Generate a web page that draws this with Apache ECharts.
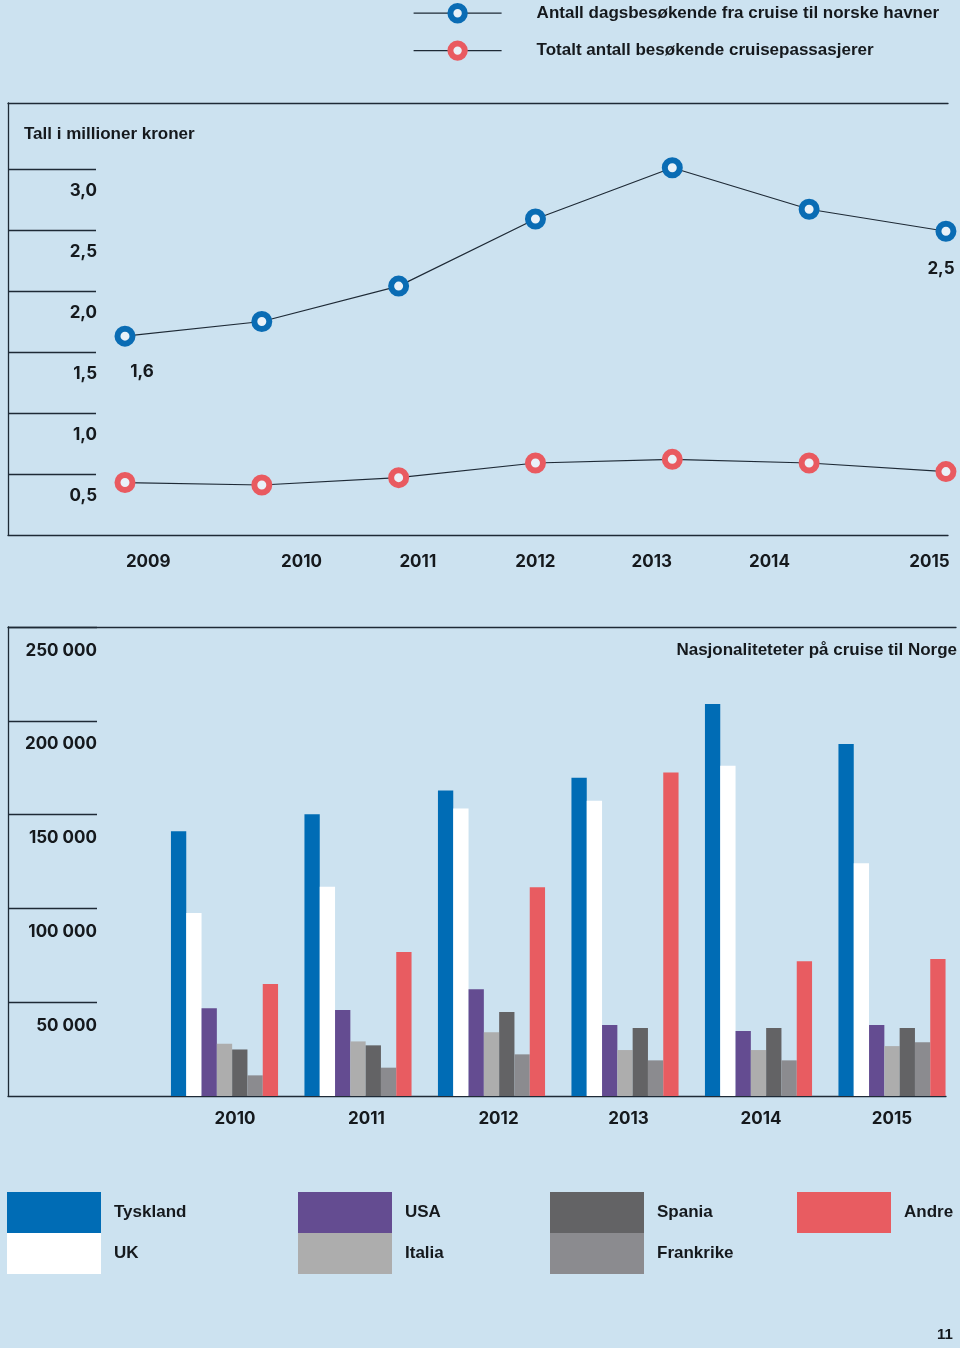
<!DOCTYPE html>
<html><head><meta charset="utf-8">
<script src="https://cdn.jsdelivr.net/npm/echarts@6/dist/echarts.min.js"></script>
<style>html,body{margin:0;padding:0;background:#cce2f0}#c{width:960px;height:1348px}</style>
</head><body><div id="c"></div>
<script>
// ---- data ----
const years = ['2009', '2010', '2011', '2012', '2013', '2014', '2015'];
const dagsbesokende = [1.63, 1.75, 2.04, 2.59, 3.01, 2.67, 2.49];
const totaltPassasjerer = [0.43, 0.41, 0.47, 0.59, 0.62, 0.59, 0.52];
const lineTicks = [0.5, 1.0, 1.5, 2.0, 2.5, 3.0];

const barYears = ['2010', '2011', '2012', '2013', '2014', '2015'];
const tyskland = [141100, 150200, 162900, 169700, 209000, 187600];
const uk = [97500, 111500, 153200, 157400, 176100, 124100];
const usa = [46800, 45900, 56900, 37800, 34600, 37800];
const italia = [27800, 29100, 34000, 24500, 24500, 26600];
const spania = [24800, 27000, 44800, 36300, 36300, 36300];
const frankrike = [11000, 15100, 22200, 19000, 19000, 28600];
const andre = [59700, 76800, 111300, 172500, 71800, 73000];

const lineNames = ['Antall dagsbesøkende fra cruise til norske havner', 'Totalt antall besøkende cruisepassasjerer'];
const barNames = ['Tyskland', 'UK', 'USA', 'Italia', 'Spania', 'Frankrike', 'Andre'];

// ---- layout / style ----
const yearLabelNudge = [0.17, 0.29, 0.14, 0.0, -0.15, -0.29, -0.12];
const barLabelPadLeft = [21, 17, 14, 7, 5, 0];
const INK = '#15191d';
const LINE = '#1e2a36';
const TXT = 'Liberation Sans, Arial, sans-serif';
const NUM = 'Inter, Liberation Sans, sans-serif';
const barColors = ['#006cb5', '#ffffff', '#644c91', '#adadad', '#636365', '#8b8b8f', '#e85c61'];
const barData = [tyskland, uk, usa, italia, spania, frankrike, andre];

const chart = echarts.init(document.getElementById('c'));
const lineSt = { color: LINE, width: 1.3 };
const axLine = { show: true, onZero: false, lineStyle: lineSt };
const numLabel = { fontFamily: NUM, fontWeight: 'bold', fontSize: 17, color: INK };

function lineData(arr, labelled) {
  return arr.map((v, i) => {
    if (labelled && i === 0) return { value: [i, v], label: { show: true, offset: [17, 12] } };
    if (labelled && i === arr.length - 1) return { value: [i, v], label: { show: true, offset: [-5, 14] } };
    return [i, v];
  });
}

const barRich = {};
barLabelPadLeft.forEach((p, i) => { barRich['n' + i] = Object.assign({ padding: [0, 0, 0, p] }, numLabel); });

const option = {
  backgroundColor: '#cce2f0',
  animation: false,
  title: [
    { text: 'Tall i millioner kroner', left: 24, top: 126, padding: 0,
      textStyle: { fontFamily: TXT, fontWeight: 'bold', fontSize: 17, color: INK } },
    { text: 'Nasjonaliteteter på cruise til Norge', right: 3, top: 642, padding: 0,
      textStyle: { fontFamily: TXT, fontWeight: 'bold', fontSize: 17, color: INK } },
    { text: '11', left: 937, top: 1327, padding: 0,
      textStyle: { fontFamily: TXT, fontWeight: 'bold', fontSize: 15, color: INK } }
  ],
  legend: [
    { data: lineNames, left: 413, top: 3, orient: 'vertical', padding: 0, selectedMode: false,
      itemWidth: 88, itemHeight: 18, itemGap: 17,
      itemStyle: { borderWidth: 6 }, lineStyle: { width: 1.2, color: LINE },
      textStyle: { fontFamily: TXT, fontWeight: 'bold', fontSize: 17, color: INK, lineHeight: 18, padding: [0, 0, 0, 30] } },
    ...[[0, 1, 7], [2, 3, 298], [4, 5, 550], [6, null, 797]].map(([a, b, left]) => ({
      data: (b === null ? [barNames[a]] : [barNames[a], barNames[b]]),
      left: left, top: 1192, orient: 'vertical', padding: 0, selectedMode: false, icon: 'rect',
      itemWidth: 94, itemHeight: 41, itemGap: 0,
      textStyle: { fontFamily: TXT, fontWeight: 'bold', fontSize: 17, color: INK, lineHeight: 20, padding: [4, 0, 0, 8] }
    }))
  ],
  grid: [
    { left: 8, right: 12, top: 103, height: 432 },
    { left: 8, right: 4, top: 627, height: 469 },
    { left: 8, right: 14, top: 627, height: 469 },
    { left: 157.75, right: 1.25, top: 627, height: 469 }
  ],
  xAxis: [
    { gridIndex: 0, type: 'value', position: 'bottom', min: -0.855, max: 6.015,
      axisLine: axLine, axisTick: { show: false }, splitLine: { show: false },
      axisLabel: Object.assign({ margin: 18, customValues: years.map((_, i) => i + yearLabelNudge[i]),
        formatter: v => years[Math.round(v)] }, numLabel) },
    { gridIndex: 0, type: 'value', position: 'top', min: -0.855, max: 6.015,
      axisLine: axLine, axisTick: { show: false }, axisLabel: { show: false }, splitLine: { show: false } },
    { gridIndex: 1, type: 'value', position: 'top', min: 0, max: 1,
      axisLine: axLine, axisTick: { show: false }, axisLabel: { show: false }, splitLine: { show: false } },
    { gridIndex: 2, type: 'value', position: 'bottom', min: 0, max: 1,
      axisLine: axLine, axisTick: { show: false }, axisLabel: { show: false }, splitLine: { show: false } },
    { gridIndex: 3, type: 'category', data: barYears, position: 'bottom',
      axisLine: { show: false }, axisTick: { show: false },
      axisLabel: Object.assign({ margin: 14, interval: 0, rich: barRich,
        formatter: (v, i) => '{n' + i + '|' + v + '}' }, numLabel) }
  ],
  yAxis: [
    { gridIndex: 0, type: 'value', min: 0, max: 3.541,
      axisLine: axLine,
      axisTick: { show: true, inside: true, length: 88, customValues: lineTicks, lineStyle: lineSt },
      splitLine: { show: false },
      axisLabel: Object.assign({ inside: true, customValues: lineTicks, align: 'right', margin: 89,
        verticalAlign: 'top', padding: [13, 0, 0, 0],
        formatter: v => v.toFixed(1).replace('.', ',') }, numLabel) },
    { gridIndex: 1, type: 'value', min: 0, max: 250000, interval: 50000,
      axisLine: axLine,
      axisTick: { show: true, inside: true, length: 89, lineStyle: lineSt },
      splitLine: { show: false },
      axisLabel: Object.assign({ inside: true, align: 'right', margin: 89, showMinLabel: false,
        verticalAlign: 'top', padding: [15, 0, 0, 0],
        formatter: v => v === 0 ? '' : (v / 1000) + ' 000' }, numLabel) },
    { gridIndex: 2, type: 'value', min: 0, max: 1, show: false },
    { gridIndex: 3, type: 'value', min: 0, max: 250000, show: false }
  ],
  series: [
    { name: lineNames[0], type: 'line', xAxisIndex: 0, yAxisIndex: 0,
      data: lineData(dagsbesokende, true),
      symbol: 'circle', symbolSize: 15,
      itemStyle: { color: '#e9f1f8', borderColor: '#0a6cb4', borderWidth: 6 },
      lineStyle: { color: LINE, width: 1.2 },
      label: Object.assign({ show: false, position: 'bottom', distance: 5,
        formatter: p => p.value[1].toFixed(1).replace('.', ',') }, numLabel) },
    { name: lineNames[1], type: 'line', xAxisIndex: 0, yAxisIndex: 0,
      data: lineData(totaltPassasjerer, false),
      symbol: 'circle', symbolSize: 15,
      itemStyle: { color: '#e9f1f8', borderColor: '#e95a60', borderWidth: 6 },
      lineStyle: { color: LINE, width: 1.2 } },
    ...barNames.map((n, k) => ({
      name: n, type: 'bar', xAxisIndex: 4, yAxisIndex: 3,
      data: barData[k], barWidth: 15.3, barGap: '0%',
      itemStyle: { color: barColors[k] }
    }))
  ]
};
chart.setOption(option);
</script></body></html>
